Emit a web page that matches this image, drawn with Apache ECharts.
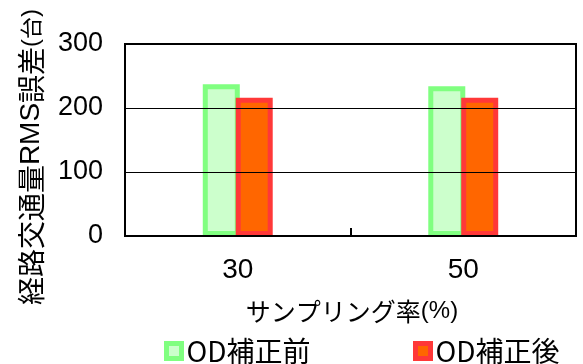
<!DOCTYPE html>
<html>
<head>
<meta charset="utf-8">
<script src="https://cdn.jsdelivr.net/npm/echarts@6/dist/echarts.min.js"></script>
<style>
  html, body { margin: 0; padding: 0; background: #fff; }
  #chart { width: 583px; height: 364px; }
</style>
</head>
<body>
<div id="chart"></div>
<script>
// Sampling rates (%) on the category axis
const categories = ['30', '50'];
// Link-flow RMS error (vehicles), before / after OD correction
const beforeValues = [237, 234];
const afterValues = [216, 216];
const seriesNames = ['OD補正前', 'OD補正後'];
// Value axis range
const yMin = 0;
const yMax = 300;
const yStep = 100;

const NUM_FONT = '"Liberation Sans", Arial, sans-serif';
const CJK_FONT = '"Noto Sans CJK JP", "Liberation Sans", sans-serif';

const chart = echarts.init(document.getElementById('chart'), null, { renderer: 'canvas' });

const greenStyle = { color: '#CCFFCC', borderColor: '#80FF80', borderWidth: 5 };
const redStyle = { color: '#FF6600', borderColor: '#FF3838', borderWidth: 5 };

chart.setOption({
  animation: false,
  backgroundColor: '#fff',
  grid: {
    left: 125, right: 7, top: 44, bottom: 128,
    show: true, borderColor: '#000', borderWidth: 2, backgroundColor: 'transparent'
  },
  xAxis: {
    type: 'category',
    data: categories,
    z: 5,
    axisLine: { lineStyle: { color: '#000', width: 2 } },
    axisTick: { show: true, inside: true, length: 8, lineStyle: { color: '#000', width: 2 } },
    axisLabel: { color: '#000', fontFamily: NUM_FONT, fontSize: 28, margin: 20 },
    splitLine: { show: false }
  },
  yAxis: {
    type: 'value',
    min: yMin, max: yMax, interval: yStep,
    z: 5,
    axisLine: { show: true, lineStyle: { color: '#000', width: 2 } },
    axisTick: { show: false },
    axisLabel: { color: '#000', fontFamily: NUM_FONT, fontSize: 27, margin: 22 },
    splitLine: { show: true, lineStyle: { color: '#000', width: 1 } }
  },
  legend: [
    {
      data: [{ name: seriesNames[0], itemStyle: greenStyle }],
      left: 159, top: 332,
      icon: 'rect', itemWidth: 15, itemHeight: 15, itemGap: 10,
      textStyle: { color: '#000', fontFamily: CJK_FONT, fontSize: 28 }
    },
    {
      data: [{ name: seriesNames[1], itemStyle: redStyle }],
      left: 408, top: 332,
      icon: 'rect', itemWidth: 15, itemHeight: 15, itemGap: 10,
      textStyle: { color: '#000', fontFamily: CJK_FONT, fontSize: 28 }
    }
  ],
  series: [
    {
      name: seriesNames[0], type: 'bar', data: beforeValues,
      barWidth: 37, barGap: '-11%', itemStyle: greenStyle
    },
    {
      name: seriesNames[1], type: 'bar', data: afterValues,
      barWidth: 37, barGap: '-11%', itemStyle: redStyle
    }
  ],
  graphic: [
    {
      type: 'text', x: 352, y: 311,
      style: {
        text: '{a|サンプリング率}{b|(%)}',
        align: 'center', verticalAlign: 'middle',
        rich: {
          a: { fontFamily: CJK_FONT, fontSize: 25, fill: '#000' },
          b: { fontFamily: NUM_FONT, fontSize: 24, fill: '#000' }
        }
      }
    },
    {
      type: 'text', x: 31, y: 157, rotation: Math.PI / 2,
      style: {
        text: '{a|経路交通量}{n|RMS}{a|誤差}{p|(}{b|台}{p|)}',
        align: 'center', verticalAlign: 'middle',
        rich: {
          a: { fontFamily: CJK_FONT, fontSize: 28, fill: '#000' },
          n: { fontFamily: NUM_FONT, fontSize: 28, fill: '#000' },
          p: { fontFamily: NUM_FONT, fontSize: 24, fill: '#000' },
          b: { fontFamily: CJK_FONT, fontSize: 22, fill: '#000' }
        }
      }
    }
  ]
});
</script>
</body>
</html>
